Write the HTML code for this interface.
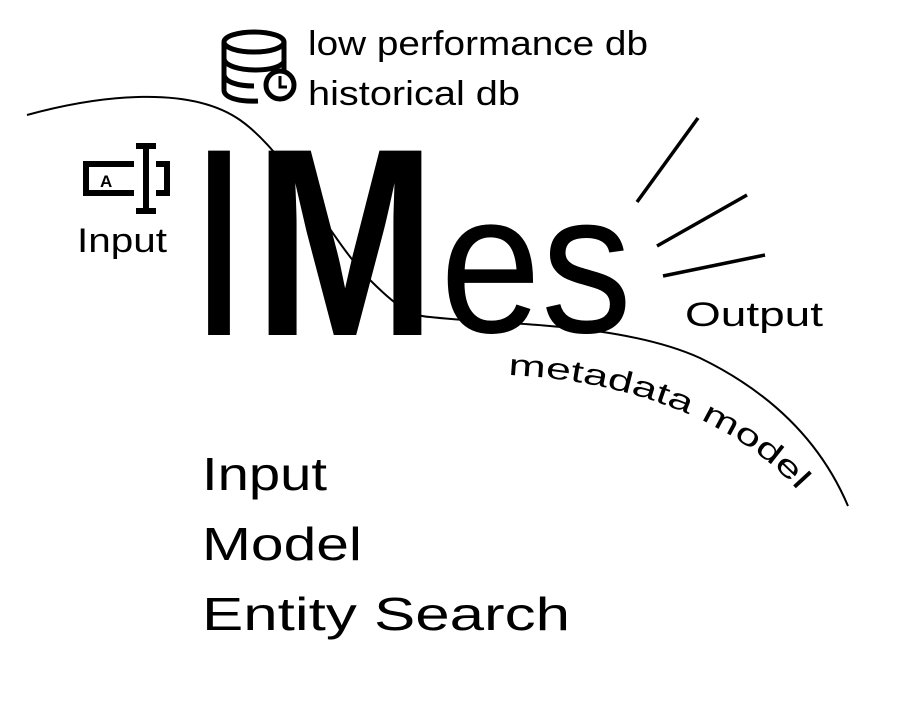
<!DOCTYPE html>
<html><head><meta charset="utf-8"><style>
html,body{margin:0;padding:0;background:#fff;width:922px;height:704px;overflow:hidden}
svg{display:block}
text{font-family:"Liberation Sans",sans-serif;fill:#000}
</style></head><body>
<svg width="922" height="704" viewBox="0 0 922 704">
<path d="M27,115 C100,95 190,85 240,120 C290,155 330,240 370,280 C395,305 410,316 430,317 C500,325 620,322 700,358 C770,392 820,440 848,506" fill="none" stroke="#000" stroke-width="2"/>
<g fill="none" stroke="#000" stroke-width="5">
<ellipse cx="254" cy="42" rx="30" ry="10"/>
<path d="M224,42 V90 C224,98 240,102 258,101"/>
<path d="M284,42 V70"/>
<path d="M224,58 C224,66 240,70 256,70 C270,70 280,67 284,62"/>
<path d="M224,74 C224,82 238,86 254,86"/>
<circle cx="280" cy="85" r="14"/>
<path d="M280,76 V87 H287" stroke-width="3"/>
</g>
<text x="308" y="55" font-size="34" textLength="340" lengthAdjust="spacingAndGlyphs">low performance db</text>
<text x="308" y="105" font-size="34" textLength="212" lengthAdjust="spacingAndGlyphs">historical db</text>
<g fill="none" stroke="#000" stroke-width="6">
<path d="M134,164 H86 V193 H134"/>
<path d="M156,164 H167 V193 H156"/>
<path d="M146,146 V210"/>
<path d="M136,146 H156 M136,211 H156"/>
</g>
<text x="100" y="187" font-size="17" font-weight="bold">A</text>
<text x="77" y="252" font-size="34" textLength="90" lengthAdjust="spacingAndGlyphs">Input</text>
<text x="198" y="335" font-size="268" font-weight="bold" textLength="42" lengthAdjust="spacingAndGlyphs">I</text>
<text x="254" y="335" font-size="268" font-weight="bold" textLength="182" lengthAdjust="spacingAndGlyphs">M</text>
<text x="440" y="332" font-size="200" textLength="192" lengthAdjust="spacingAndGlyphs">es</text>
<g stroke="#000" stroke-width="3.5">
<line x1="637" y1="202" x2="698" y2="118"/>
<line x1="657" y1="246" x2="747" y2="195"/>
<line x1="663" y1="276" x2="765" y2="255"/>
</g>
<text x="685" y="326" font-size="34" textLength="138" lengthAdjust="spacingAndGlyphs">Output</text>
<path id="tp" d="M508,375 C630,380 760,425 820,520" fill="none"/>
<text font-size="30"><textPath href="#tp" textLength="320" lengthAdjust="spacingAndGlyphs">metadata model</textPath></text>
<text x="202" y="490" font-size="46" textLength="125" lengthAdjust="spacingAndGlyphs">Input</text>
<text x="202" y="560" font-size="46" textLength="160" lengthAdjust="spacingAndGlyphs">Model</text>
<text x="202" y="630" font-size="46" textLength="368" lengthAdjust="spacingAndGlyphs">Entity Search</text>
</svg>
</body></html>
